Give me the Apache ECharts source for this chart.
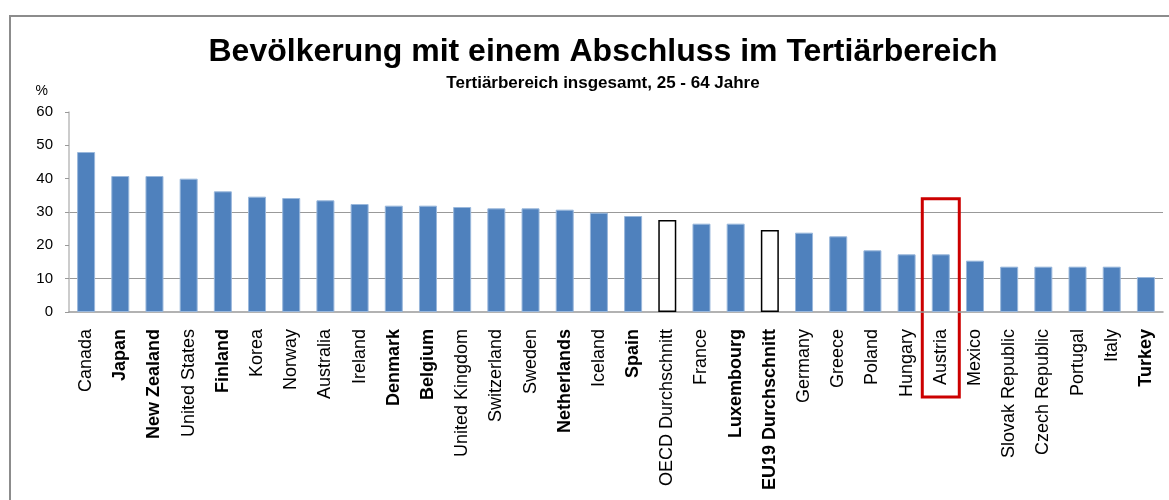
<!DOCTYPE html>
<html>
<head>
<meta charset="utf-8">
<script src="https://cdn.jsdelivr.net/npm/echarts@6/dist/echarts.min.js"></script>
<style>
  html, body { margin: 0; padding: 0; background: #fff; }
  #chart { width: 1169px; height: 500px; }
</style>
</head>
<body>
<div id="chart"></div>
<script>
  // Data
  const categories = ['Canada', 'Japan', 'New Zealand', 'United States', 'Finland', 'Korea', 'Norway',
    'Australia', 'Ireland', 'Denmark', 'Belgium', 'United Kingdom', 'Switzerland', 'Sweden',
    'Netherlands', 'Iceland', 'Spain', 'OECD Durchschnitt', 'France', 'Luxembourg',
    'EU19 Durchschnitt', 'Germany', 'Greece', 'Poland', 'Hungary', 'Austria', 'Mexico',
    'Slovak Republic', 'Czech Republic', 'Portugal', 'Italy', 'Turkey'];
  const values = [48.0, 40.8, 40.8, 40.0, 36.2, 34.6, 34.2, 33.5, 32.4, 31.9,
    31.9, 31.5, 31.1, 31.1, 30.7, 29.8, 28.8, 27.6, 26.5, 26.5,
    24.6, 23.8, 22.7, 18.5, 17.3, 17.3, 15.4, 13.6, 13.6, 13.6, 13.6, 10.5];
  const averages = ['OECD Durchschnitt', 'EU19 Durchschnitt'];
  const highlighted = 'Austria';
  const yTicks = [0, 10, 20, 30, 40, 50, 60];
  const boldLabels = ['Japan', 'New Zealand', 'Finland', 'Denmark', 'Belgium', 'Netherlands',
    'Spain', 'Luxembourg', 'EU19 Durchschnitt', 'Turkey'];

  const chart = echarts.init(document.getElementById('chart'));

  const barData = categories.map(function (c, i) {
    if (averages.indexOf(c) >= 0) {
      return { value: values[i], itemStyle: { color: '#fff', borderColor: '#000', borderWidth: 1.5 } };
    }
    return values[i];
  });

  const option = {
    animation: false,
    textStyle: { fontFamily: 'Liberation Sans, Arial, sans-serif' },
    title: [
      {
        text: 'Bevölkerung mit einem Abschluss im Tertiärbereich',
        left: 598, top: 31, textAlign: 'center',
        textStyle: { fontSize: 32, fontWeight: 'bold', color: '#000', fontFamily: 'Liberation Sans' }
      },
      {
        text: 'Tertiärbereich insgesamt, 25 - 64 Jahre',
        left: 598, top: 70, textAlign: 'center',
        textStyle: { fontSize: 17, fontWeight: 'bold', color: '#000', fontFamily: 'Liberation Sans' }
      }
    ],
    grid: { left: 69, right: 6, top: 112, bottom: 188, containLabel: false },
    xAxis: {
      type: 'category',
      data: categories,
      axisLine: { lineStyle: { color: '#999', width: 1.5 } },
      axisTick: { length: 6, lineStyle: { color: '#999' } },
      axisLabel: {
        rotate: 90, interval: 0, margin: 17, fontSize: 18, color: '#000',
        formatter: function (v) {
          return boldLabels.indexOf(v) >= 0 ? '{b|' + v + '}' : v;
        },
        rich: { b: { fontWeight: 'bold', fontSize: 18, color: '#000' } }
      }
    },
    yAxis: {
      type: 'value',
      min: yTicks[0], max: yTicks[yTicks.length - 1], interval: 10,
      name: '%',
      nameLocation: 'end',
      nameGap: 14,
      nameTextStyle: { fontSize: 14, color: '#000', align: 'right', padding: [0, 21, 0, 0] },
      axisLine: { show: true, lineStyle: { color: '#bbb', width: 1.5 } },
      axisTick: { show: true, length: 4, lineStyle: { color: '#999' } },
      axisLabel: { fontSize: 15, color: '#000', margin: 16 },
      splitLine: {
        show: true,
        lineStyle: { color: ['transparent', '#999', 'transparent', '#999', 'transparent', 'transparent', 'transparent'], width: 1.2 }
      }
    },
    series: [
      {
        type: 'bar',
        data: barData,
        barWidth: 18,
        itemStyle: { color: '#4F81BD', borderColor: '#9ab8dc', borderWidth: 1 }
      }
    ]
  };
  chart.setOption(option);

  // Frame and highlight box around Austria, positioned from the axes
  const hi = categories.indexOf(highlighted);
  const p0 = chart.convertToPixel({ seriesIndex: 0 }, [hi, 0]);
  const pTop = chart.convertToPixel({ seriesIndex: 0 }, [hi, 34]);
  chart.setOption({
    graphic: [
      {
        type: 'rect',
        shape: { x: 10, y: 16, width: 1200, height: 600 },
        style: { fill: 'none', stroke: '#8c8c8c', lineWidth: 2 },
        silent: true
      },
      {
        type: 'rect',
        shape: { x: p0[0] - 18.5, y: pTop[1], width: 37, height: p0[1] + 85 - pTop[1] },
        style: { fill: 'none', stroke: '#cc0000', lineWidth: 3 },
        silent: true
      }
    ]
  });

  window.addEventListener('resize', function () {
    chart.resize();
  });
</script>
</body>
</html>
